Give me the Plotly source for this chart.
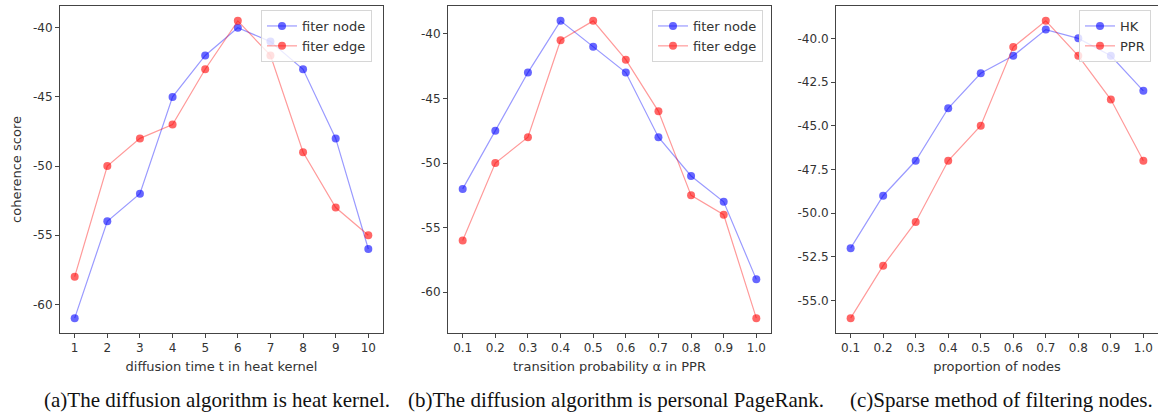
import plotly.graph_objects as go

# ---- data ----
t_vals = [1, 2, 3, 4, 5, 6, 7, 8, 9, 10]
hk_node = [-61, -54, -52, -45, -42, -40, -41, -43, -48, -56]
hk_edge = [-58, -50, -48, -47, -43, -39.5, -42, -49, -53, -55]

alpha_vals = [0.1, 0.2, 0.3, 0.4, 0.5, 0.6, 0.7, 0.8, 0.9, 1.0]
ppr_node = [-52, -47.5, -43, -39, -41, -43, -48, -51, -53, -59]
ppr_edge = [-56, -50, -48, -40.5, -39, -42, -46, -52.5, -54, -62]

prop_vals = [0.1, 0.2, 0.3, 0.4, 0.5, 0.6, 0.7, 0.8, 0.9, 1.0]
sparse_hk = [-52, -49, -47, -44, -42, -41, -39.5, -40, -41, -43]
sparse_ppr = [-56, -53, -50.5, -47, -45, -40.5, -39, -41, -43.5, -47]

y_ticks_ab = [-60, -55, -50, -45, -40]
y_ticks_c = [-55.0, -52.5, -50.0, -47.5, -45.0, -42.5, -40.0]

x_titles = ["diffusion time t in heat kernel", "transition probability α in PPR", "proportion of nodes"]
captions = ["(a)The diffusion algorithm is heat kernel.",
            "(b)The diffusion algorithm is personal PageRank.",
            "(c)Sparse method of filtering nodes."]
legend_names = [("fiter node", "fiter edge"), ("fiter node", "fiter edge"), ("HK", "PPR")]

W, H = 1158, 412
BLUE_M = "rgba(0,0,255,0.6)"
BLUE_L = "rgba(0,0,255,0.4)"
RED_M = "rgba(255,0,0,0.6)"
RED_L = "rgba(255,0,0,0.4)"


def mrange(vals):
    lo, hi = min(vals), max(vals)
    pad = 0.05 * (hi - lo)
    return [lo - pad, hi + pad]


panels = [
    (t_vals, hk_node, hk_edge, y_ticks_ab, "{:d}", "{:d}"),
    (alpha_vals, ppr_node, ppr_edge, y_ticks_ab, "{:.1f}", "{:d}"),
    (prop_vals, sparse_hk, sparse_ppr, y_ticks_c, "{:.1f}", "{:.1f}"),
]
x_px = [(60, 383), (448, 771), (836, 1158)]
legend_right_px = [372, 763, 1151]
caption_center_px = [217, 616, 1001]
y_dom = [1 - 333 / H, 1 - 6 / H]

fig = go.Figure()
layout = dict(
    width=W, height=H,
    margin=dict(l=0, r=0, t=0, b=0),
    paper_bgcolor="white", plot_bgcolor="white",
    font=dict(family="DejaVu Sans", size=12, color="#333"),
    annotations=[],
)

for i, (xs, s1, s2, yt, xfmt, yfmt) in enumerate(panels):
    suffix = "" if i == 0 else str(i + 1)
    xa, ya = "x" + suffix, "y" + suffix
    leg = "legend" + suffix
    fig.add_trace(go.Scatter(x=xs, y=s1, name=legend_names[i][0], mode="lines+markers",
                             line=dict(color=BLUE_L, width=1.2),
                             marker=dict(color=BLUE_M, size=8),
                             xaxis=xa, yaxis=ya, legend=leg))
    fig.add_trace(go.Scatter(x=xs, y=s2, name=legend_names[i][1], mode="lines+markers",
                             line=dict(color=RED_L, width=1.2),
                             marker=dict(color=RED_M, size=8),
                             xaxis=xa, yaxis=ya, legend=leg))
    xr = mrange(xs)
    yr = mrange(s1 + s2)
    xaxis = dict(domain=[x_px[i][0] / W, x_px[i][1] / W], range=xr, anchor=ya,
                 tickmode="array", tickvals=xs, ticktext=[xfmt.format(v) for v in xs],
                 showgrid=False, zeroline=False, showline=True, mirror=True,
                 linecolor="#444", linewidth=1, ticks="outside", ticklen=4,
                 tickcolor="#444", tickfont=dict(size=12, color="#333"),
                 title=dict(text=x_titles[i], font=dict(size=13, color="#333"), standoff=7))
    yaxis = dict(domain=y_dom, range=yr, anchor=xa,
                 tickmode="array", tickvals=yt,
                 ticktext=[(yfmt.format(int(v)) if yfmt == "{:d}" else yfmt.format(v)) for v in yt],
                 showgrid=False, zeroline=False, showline=True, mirror=True,
                 linecolor="#444", linewidth=1, ticks="outside", ticklen=4,
                 tickcolor="#444", tickfont=dict(size=12, color="#333"))
    if i == 0:
        yaxis["title"] = dict(text="coherence score", font=dict(size=13, color="#333"), standoff=8)
    layout["xaxis" + suffix] = xaxis
    layout["yaxis" + suffix] = yaxis
    layout[leg] = dict(x=legend_right_px[i] / W, y=1 - 10 / H, xanchor="right", yanchor="top",
                       xref="paper", yref="paper",
                       bgcolor="rgba(255,255,255,0.8)", bordercolor="#d6d6d6", borderwidth=1,
                       font=dict(size=13, color="#333"), tracegroupgap=0)
    layout["annotations"].append(dict(text=captions[i], x=caption_center_px[i] / W, y=1 - 400 / H,
                                      xref="paper", yref="paper", showarrow=False,
                                      xanchor="center", yanchor="middle",
                                      font=dict(family="Liberation Serif", size=21, color="#111")))

fig.update_layout(**layout)
fig.write_html("out.html", config={"displayModeBar": False},
               post_script="document.body.style.margin='0px';")
